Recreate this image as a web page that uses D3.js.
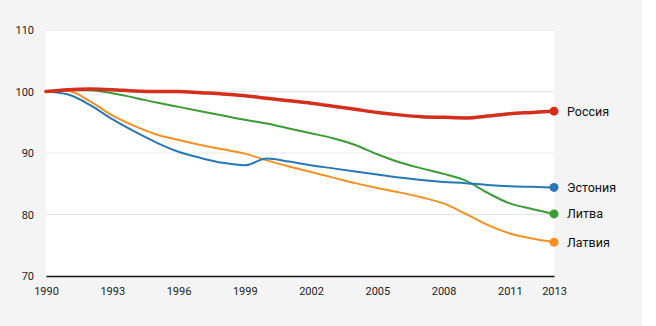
<!DOCTYPE html>
<html><head><meta charset="utf-8">
<script src="https://cdn.jsdelivr.net/npm/d3@7"></script>
<style>
html,body{margin:0;padding:0;background:#f4f4f4;}
svg{display:block;font-family:Roboto,"Noto Sans",sans-serif;}
</style></head>
<body><svg id="c" width="656" height="326"></svg>
<script>
const years = d3.range(1990, 2014);
const russia    = [100,100.3,100.4,100.3,100.1,100.0,100.0,99.8,99.6,99.3,98.9,98.5,98.1,97.6,97.1,96.6,96.2,95.9,95.8,95.7,96.0,96.4,96.6,96.8];
const estonia   = [100,99.5,97.8,95.5,93.5,91.7,90.2,89.2,88.4,88.0,89.1,88.6,88.0,87.5,87.0,86.5,86.0,85.6,85.3,85.1,84.8,84.6,84.5,84.4];
const lithuania = [100,100.2,100.2,99.7,99.0,98.2,97.5,96.8,96.1,95.4,94.8,94.0,93.2,92.4,91.3,89.8,88.5,87.5,86.6,85.5,83.5,81.8,80.9,80.1];
const latvia    = [100,100.1,98.4,96.1,94.4,93.0,92.1,91.3,90.6,89.9,88.8,87.8,86.9,86.0,85.1,84.3,83.6,82.8,81.8,80.1,78.3,76.9,76.1,75.5];
const seriesNames = ["Россия","Эстония","Литва","Латвия"];
const seriesColors = ["#d42e1c","#2677b6","#3b9c35","#f39021"];
const yTicks = [70,80,90,100,110];
const xTicks = [1990,1993,1996,1999,2002,2005,2008,2011,2013];

const series = [
  {name: seriesNames[0], values: russia, color: seriesColors[0], w: 3.5},
  {name: seriesNames[1], values: estonia, color: seriesColors[1], w: 2},
  {name: seriesNames[2], values: lithuania, color: seriesColors[2], w: 2},
  {name: seriesNames[3], values: latvia, color: seriesColors[3], w: 2}
];

const svg = d3.select("#c");
svg.append("rect").attr("x",642).attr("y",0).attr("width",14).attr("height",326).attr("fill","#fff");

const x = d3.scaleLinear().domain([1990,2013]).range([46,554]);
const y = d3.scaleLinear().domain([70,110]).range([276,30]);

svg.append("rect").attr("x",x(1990)).attr("y",y(110)).attr("width",x(2013)-x(1990)).attr("height",y(70)-y(110)).attr("fill","#fff");

// grid
svg.append("g").selectAll("line").data(yTicks.slice(1)).join("line")
  .attr("x1",x(1990)).attr("x2",x(2013)).attr("y1",d=>y(d)).attr("y2",d=>y(d))
  .attr("stroke","#e6e6e6").attr("stroke-width",1);

// y axis labels
const yAxis = d3.axisLeft(y).tickValues(yTicks).tickSize(0).tickPadding(12);
const gy = svg.append("g").attr("transform",`translate(${x(1990)},0)`).call(yAxis);
gy.select(".domain").remove();
gy.selectAll("text").attr("font-size",11).attr("fill","#222").attr("font-family","Roboto,sans-serif");

// x axis
const xAxis = d3.axisBottom(x).tickValues(xTicks).tickSize(0).tickPadding(11).tickFormat(d3.format("d"));
const gx = svg.append("g").attr("transform",`translate(0,${y(70)})`).call(xAxis);
gx.select(".domain").attr("stroke","#111").attr("stroke-width",1.5);
gx.selectAll("text").attr("font-size",11).attr("fill","#222").attr("font-family","Roboto,sans-serif");

const line = d3.line().x((d,i)=>x(years[i])).y(d=>y(d)).curve(d3.curveMonotoneX);

const order = [2,3,1,0];
order.forEach(k=>{
  const s = series[k];
  svg.append("path").attr("d",line(s.values)).attr("fill","none")
    .attr("stroke",s.color).attr("stroke-width",s.w).attr("stroke-linejoin","round").attr("stroke-linecap","round");
});
series.forEach(s=>{
  const last = s.values[s.values.length-1];
  svg.append("circle").attr("cx",x(2013)).attr("cy",y(last)).attr("r",4.5).attr("fill",s.color);
  svg.append("text").attr("x",x(2013)+13).attr("y",y(last)).attr("dy","0.35em")
    .attr("font-size",12.5).attr("fill","#111").text(s.name);
});
</script></body></html>
